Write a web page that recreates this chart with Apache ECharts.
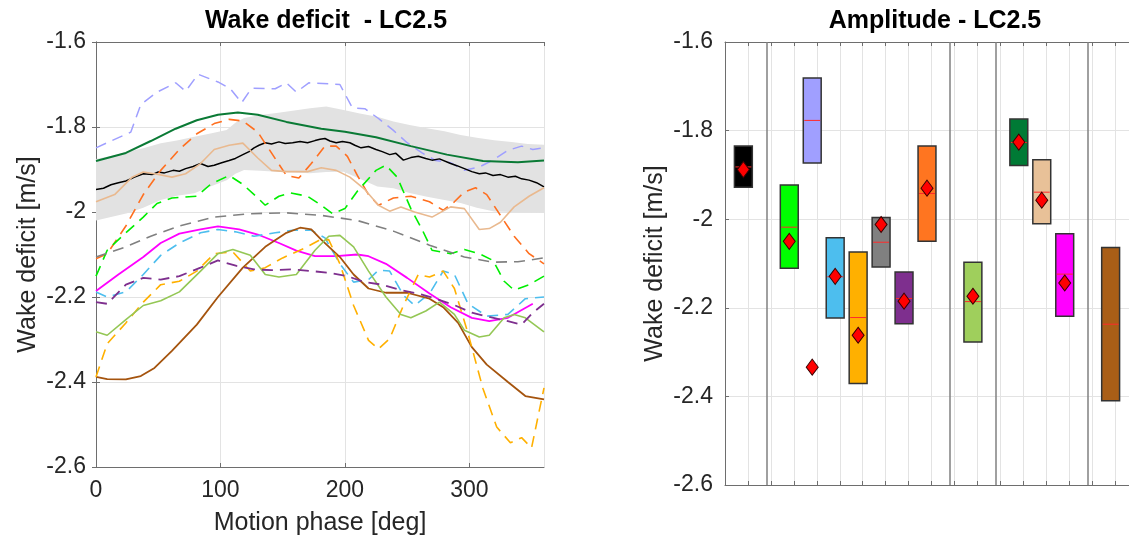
<!DOCTYPE html>
<html>
<head>
<meta charset="UTF-8">
<title>Wake deficit - LC2.5</title>
<script src="https://cdn.jsdelivr.net/npm/echarts@6/dist/echarts.min.js"></script>
<style>
  html, body { margin: 0; padding: 0; background: #fff; }
  #main { width: 1129px; height: 546px; }
</style>
</head>
<body>
<div id="main"></div>
<script type="text/javascript">
// ---- left panel: wake deficit vs motion phase, [deg, m/s] ----
var lavender = [[0,-1.849],[28,-1.812],[36,-1.747],[49,-1.718],[64,-1.696],[72,-1.716],[82,-1.676],[98,-1.694],[108,-1.710],[117,-1.743],[125,-1.709],[144,-1.710],[153,-1.696],[161,-1.718],[171,-1.696],[196,-1.700],[206,-1.755],[216,-1.757],[227,-1.780],[239,-1.808],[250,-1.837],[262,-1.861],[273,-1.879],[285,-1.884],[296,-1.902],[308,-1.894],[319,-1.878],[331,-1.855],[342,-1.845],[351,-1.853],[360,-1.849]];
var darkGreen = [[0,-1.880],[24,-1.861],[44,-1.833],[64,-1.804],[81,-1.784],[98,-1.771],[114,-1.766],[130,-1.771],[153,-1.788],[181,-1.804],[200,-1.811],[225,-1.824],[253,-1.845],[282,-1.865],[311,-1.880],[339,-1.883],[360,-1.879]];
var black = [[0,-1.947],[6,-1.944],[12,-1.936],[18,-1.931],[24,-1.927],[31,-1.918],[38,-1.910],[45,-1.912],[50,-1.906],[55,-1.908],[62,-1.902],[67,-1.904],[72,-1.898],[78,-1.893],[84,-1.886],[90,-1.893],[95,-1.890],[101,-1.884],[107,-1.879],[112,-1.874],[118,-1.865],[123,-1.858],[127,-1.849],[131,-1.843],[136,-1.837],[141,-1.840],[147,-1.835],[152,-1.839],[158,-1.837],[164,-1.834],[170,-1.837],[176,-1.832],[180,-1.829],[184,-1.827],[188,-1.833],[193,-1.837],[198,-1.834],[204,-1.837],[208,-1.843],[213,-1.849],[219,-1.846],[225,-1.853],[230,-1.858],[236,-1.865],[241,-1.862],[247,-1.878],[253,-1.872],[259,-1.869],[265,-1.874],[270,-1.878],[276,-1.875],[285,-1.886],[290,-1.891],[296,-1.898],[302,-1.905],[308,-1.910],[313,-1.908],[319,-1.914],[325,-1.912],[331,-1.918],[337,-1.916],[342,-1.922],[348,-1.925],[354,-1.931],[360,-1.941]];
var orange = [[0,-2.110],[9,-2.098],[24,-2.033],[38,-1.959],[52,-1.902],[67,-1.853],[81,-1.816],[95,-1.792],[107,-1.782],[118,-1.786],[130,-1.812],[141,-1.861],[153,-1.914],[163,-1.920],[173,-1.886],[184,-1.845],[193,-1.845],[202,-1.869],[210,-1.914],[219,-1.959],[227,-1.984],[239,-1.967],[253,-1.963],[268,-1.976],[279,-1.996],[288,-1.976],[296,-1.953],[305,-1.943],[314,-1.959],[325,-2.008],[336,-2.057],[348,-2.098],[360,-2.122]];
var tan = [[0,-1.976],[15,-1.959],[29,-1.918],[38,-1.906],[47,-1.910],[61,-1.918],[72,-1.910],[84,-1.886],[95,-1.853],[107,-1.843],[118,-1.838],[130,-1.873],[141,-1.902],[153,-1.905],[170,-1.905],[181,-1.896],[193,-1.902],[204,-1.918],[216,-1.947],[227,-1.984],[236,-1.998],[245,-1.988],[256,-2.000],[270,-2.012],[285,-1.988],[296,-1.992],[308,-2.041],[316,-2.039],[325,-2.024],[336,-1.988],[348,-1.963],[360,-1.943]];
var green = [[0,-2.151],[9,-2.090],[24,-2.049],[38,-2.012],[49,-1.980],[61,-1.967],[81,-1.963],[92,-1.935],[107,-1.914],[118,-1.935],[130,-1.967],[136,-1.984],[147,-1.963],[156,-1.955],[170,-1.963],[181,-1.984],[190,-2.004],[200,-1.992],[210,-1.951],[225,-1.902],[233,-1.890],[242,-1.918],[253,-1.992],[262,-2.041],[270,-2.090],[285,-2.098],[296,-2.088],[308,-2.098],[319,-2.114],[328,-2.163],[336,-2.184],[348,-2.171],[360,-2.151]];
var grayDash = [[0,-2.106],[24,-2.082],[44,-2.057],[67,-2.033],[95,-2.012],[124,-2.004],[153,-2.002],[181,-2.008],[210,-2.020],[239,-2.045],[268,-2.078],[296,-2.106],[319,-2.118],[339,-2.117],[360,-2.108]];
var magenta = [[0,-2.186],[18,-2.147],[38,-2.106],[52,-2.073],[67,-2.051],[84,-2.041],[98,-2.034],[115,-2.041],[130,-2.053],[147,-2.073],[161,-2.091],[176,-2.104],[193,-2.104],[210,-2.100],[219,-2.104],[233,-2.122],[250,-2.155],[268,-2.192],[285,-2.224],[302,-2.249],[316,-2.257],[331,-2.249],[351,-2.216]];
var lightBlue = [[0,-2.188],[9,-2.200],[24,-2.188],[38,-2.147],[52,-2.102],[67,-2.073],[84,-2.049],[98,-2.041],[113,-2.047],[127,-2.057],[144,-2.049],[158,-2.043],[173,-2.043],[184,-2.061],[196,-2.122],[207,-2.165],[219,-2.159],[227,-2.137],[236,-2.139],[247,-2.196],[256,-2.220],[268,-2.192],[279,-2.139],[288,-2.147],[299,-2.216],[314,-2.245],[331,-2.241],[345,-2.204],[360,-2.200]];
var brown = [[0,-2.388],[9,-2.393],[24,-2.394],[36,-2.386],[47,-2.367],[61,-2.327],[81,-2.265],[98,-2.200],[118,-2.131],[136,-2.082],[153,-2.049],[164,-2.037],[173,-2.041],[181,-2.065],[196,-2.106],[207,-2.147],[219,-2.180],[233,-2.190],[250,-2.190],[268,-2.204],[279,-2.224],[291,-2.261],[302,-2.318],[314,-2.359],[331,-2.400],[345,-2.433],[360,-2.441]];
var yellow = [[0,-2.388],[9,-2.310],[24,-2.261],[38,-2.212],[52,-2.171],[67,-2.163],[81,-2.139],[95,-2.098],[110,-2.094],[124,-2.139],[136,-2.131],[150,-2.108],[167,-2.086],[179,-2.067],[187,-2.065],[196,-2.122],[207,-2.220],[219,-2.302],[227,-2.322],[236,-2.298],[247,-2.220],[259,-2.147],[268,-2.153],[279,-2.139],[288,-2.180],[299,-2.286],[311,-2.416],[322,-2.506],[333,-2.543],[342,-2.531],[350,-2.555],[360,-2.414]];
var lightGreen = [[0,-2.282],[9,-2.290],[24,-2.253],[38,-2.220],[52,-2.209],[67,-2.188],[84,-2.139],[98,-2.098],[110,-2.088],[124,-2.102],[136,-2.147],[147,-2.153],[161,-2.147],[176,-2.090],[187,-2.057],[196,-2.055],[207,-2.082],[219,-2.139],[233,-2.200],[245,-2.241],[253,-2.249],[265,-2.233],[276,-2.212],[288,-2.241],[296,-2.278],[308,-2.294],[316,-2.290],[328,-2.249],[336,-2.241],[345,-2.249],[360,-2.282]];
var purple = [[0,-2.212],[9,-2.216],[24,-2.171],[38,-2.155],[52,-2.159],[67,-2.151],[84,-2.131],[98,-2.114],[113,-2.127],[127,-2.135],[141,-2.137],[158,-2.135],[173,-2.139],[187,-2.143],[202,-2.151],[216,-2.165],[230,-2.171],[245,-2.184],[259,-2.192],[273,-2.204],[288,-2.219],[302,-2.237],[316,-2.247],[331,-2.257],[342,-2.265],[351,-2.237],[360,-2.216]];

// grey band around the black line
var bandDeg   = [0, 12, 25, 38, 52, 65, 79, 92, 105, 112, 119, 132, 145, 158, 172, 185, 199, 212, 226, 239, 252, 266, 280, 293, 306, 320, 334, 347, 360];
var bandUpper = [-1.875,-1.868,-1.858,-1.850,-1.838,-1.832,-1.823,-1.815,-1.807,-1.790,-1.779,-1.772,-1.767,-1.762,-1.756,-1.752,-1.760,-1.768,-1.776,-1.787,-1.795,-1.803,-1.810,-1.819,-1.825,-1.831,-1.835,-1.840,-1.842];
var bandLower = [-2.020,-2.012,-2.003,-1.990,-1.972,-1.962,-1.956,-1.940,-1.925,-1.910,-1.901,-1.903,-1.905,-1.907,-1.909,-1.906,-1.905,-1.922,-1.940,-1.944,-1.955,-1.964,-1.972,-1.979,-1.990,-1.999,-2.000,-2.000,-2.002];

// ---- right panel: amplitude boxes ----
var boxPos    = [1, 3, 4, 5, 6, 7, 8, 9, 11, 13, 14, 15, 17];
var boxTop    = [-1.835,-1.923,-1.681,-2.042,-2.074,-1.996,-2.119,-1.835,-2.097,-1.774,-1.866,-2.033,-2.064];
var boxBottom = [-1.928,-2.111,-1.873,-2.223,-2.371,-2.108,-2.236,-2.050,-2.277,-1.879,-2.010,-2.219,-2.410];
var boxMedian = [-1.882,-2.018,-1.777,-2.130,-2.222,-2.052,-2.179,-1.942,-2.186,-1.827,-1.939,-2.124,-2.237];
var boxColors = ['#000000','#00ff00','#a09fff','#4dbeee','#ffb000','#808080','#7e2f8e','#ff7520','#9fcf5c','#007a35','#e8c198','#ff00ff','#a95e17'];
var diamondPos = [1, 3, 4, 5, 6, 7, 8, 9, 11, 13, 14, 15];
var diamondVal = [-1.888,-2.050,-2.334,-2.129,-2.262,-2.012,-2.185,-1.930,-2.174,-1.826,-1.957,-2.144];
var separators = [2, 10, 12, 16];

var font = 'Liberation Sans, Arial, Helvetica, sans-serif';
var axisCol = '#6e6e6e';
var gridCol = '#e3e3e3';
var tickFont = 23, nameFont = 25, titleFont = 25;

var myChart = echarts.init(document.getElementById('main'));

function lineSeries(data, color, dashed, width) {
  return {
    type: 'line', xAxisIndex: 0, yAxisIndex: 0, data: data,
    symbol: 'none', smooth: false, clip: true, silent: true,
    lineStyle: { color: color, width: width || 1.5, type: dashed ? [11, 7] : 'solid' },
    z: 3
  };
}

var boxData = boxPos.map(function (p, i) { return [p, boxTop[i], boxBottom[i], boxMedian[i], i]; });
var diamondData = diamondPos.map(function (p, i) { return [p, diamondVal[i]]; });

var option = {
  animation: false,
  textStyle: { fontFamily: font },
  title: [
    { text: 'Wake deficit  - LC2.5', left: 321, top: 4, textAlign: 'center',
      textStyle: { fontFamily: font, fontSize: titleFont, fontWeight: 'bold', color: '#000' } },
    { text: 'Amplitude - LC2.5', left: 930, top: 4, textAlign: 'center',
      textStyle: { fontFamily: font, fontSize: titleFont, fontWeight: 'bold', color: '#000' } }
  ],
  grid: [
    { left: 96, top: 42, width: 448, height: 425, show: false },
    { left: 725, top: 42, width: 411, height: 443, show: false }
  ],
  xAxis: [
    { type: 'value', gridIndex: 0, min: 0, max: 360, interval: 100, position: 'bottom',
      name: 'Motion phase [deg]', nameLocation: 'middle', nameGap: 44,
      nameTextStyle: { fontSize: nameFont, color: '#262626', fontFamily: font },
      axisLine: { show: true, lineStyle: { color: axisCol } },
      axisTick: { show: true, inside: true, length: 4, lineStyle: { color: axisCol } },
      axisLabel: { fontSize: tickFont, color: '#262626', margin: 12, fontFamily: font, showMaxLabel: false },
      splitLine: { show: true, lineStyle: { color: gridCol } } },
    { type: 'value', gridIndex: 0, min: 0, max: 360, interval: 100, position: 'top',
      axisLine: { show: true, lineStyle: { color: axisCol } },
      axisTick: { show: true, inside: true, length: 4, lineStyle: { color: axisCol } },
      axisLabel: { show: false }, splitLine: { show: false } },
    { type: 'value', gridIndex: 1, min: 0.2, max: 17.8, interval: 1, position: 'bottom',
      axisLine: { show: true, lineStyle: { color: axisCol } },
      axisTick: { show: true, inside: true, length: 4, lineStyle: { color: axisCol } },
      axisLabel: { show: false },
      splitLine: { show: true, lineStyle: { color: gridCol } } },
    { type: 'value', gridIndex: 1, min: 0.2, max: 17.8, interval: 1, position: 'top',
      axisLine: { show: true, lineStyle: { color: axisCol } },
      axisTick: { show: true, inside: true, length: 4, lineStyle: { color: axisCol } },
      axisLabel: { show: false }, splitLine: { show: false } }
  ],
  yAxis: [
    { type: 'value', gridIndex: 0, min: -2.6, max: -1.6, interval: 0.2, position: 'left',
      name: 'Wake deficit [m/s]', nameLocation: 'middle', nameGap: 55,
      nameTextStyle: { fontSize: nameFont, color: '#262626', fontFamily: font },
      axisLine: { show: true, lineStyle: { color: axisCol } },
      axisTick: { show: true, inside: true, length: 4, lineStyle: { color: axisCol } },
      axisLabel: { fontSize: tickFont, color: '#262626', margin: 10, fontFamily: font },
      splitLine: { show: true, lineStyle: { color: gridCol } } },
    { type: 'value', gridIndex: 0, min: -2.6, max: -1.6, interval: 0.2, position: 'right',
      axisLine: { show: true, lineStyle: { color: axisCol } },
      axisTick: { show: true, inside: true, length: 4, lineStyle: { color: axisCol } },
      axisLabel: { show: false }, splitLine: { show: false } },
    { type: 'value', gridIndex: 1, min: -2.6, max: -1.6, interval: 0.2, position: 'left',
      name: 'Wake deficit [m/s]', nameLocation: 'middle', nameGap: 57,
      nameTextStyle: { fontSize: nameFont, color: '#262626', fontFamily: font },
      axisLine: { show: true, lineStyle: { color: axisCol } },
      axisTick: { show: true, inside: true, length: 4, lineStyle: { color: axisCol } },
      axisLabel: { fontSize: tickFont, color: '#262626', margin: 12, fontFamily: font },
      splitLine: { show: true, lineStyle: { color: gridCol } } }
  ],
  series: [
    {
      type: 'custom', xAxisIndex: 0, yAxisIndex: 0, data: [[0, 0]], silent: true, z: 1,
      renderItem: function (params, api) {
        var pts = [];
        for (var i = 0; i < bandDeg.length; i++) pts.push(api.coord([bandDeg[i], bandUpper[i]]));
        for (var j = bandDeg.length - 1; j >= 0; j--) pts.push(api.coord([bandDeg[j], bandLower[j]]));
        return { type: 'polygon', shape: { points: pts }, style: { fill: '#e2e2e2', stroke: null } };
      }
    },
    lineSeries(lavender, '#9f9fff', true, 1.5),
    lineSeries(darkGreen, '#0a7a35', false, 2),
    lineSeries(black, '#000000', false, 1.5),
    lineSeries(orange, '#ff6f1f', true, 1.6),
    lineSeries(tan, '#e9b98f', false, 1.6),
    lineSeries(green, '#00ee00', true, 1.6),
    lineSeries(grayDash, '#808080', true, 1.6),
    lineSeries(magenta, '#ff00ff', false, 1.8),
    lineSeries(lightBlue, '#4dbeee', true, 1.6),
    lineSeries(brown, '#a5540e', false, 1.8),
    lineSeries(yellow, '#ffb000', true, 1.6),
    lineSeries(lightGreen, '#94c755', false, 1.6),
    lineSeries(purple, '#7e2f8e', true, 1.8),
    {
      type: 'custom', xAxisIndex: 2, yAxisIndex: 2, data: boxData, silent: true, z: 3,
      renderItem: function (params, api) {
        var p = api.value(0), hw = 0.39;
        var tl = api.coord([p - hw, api.value(1)]);
        var br = api.coord([p + hw, api.value(2)]);
        var ml = api.coord([p - hw, api.value(3)]);
        var mr = api.coord([p + hw, api.value(3)]);
        return {
          type: 'group',
          children: [
            { type: 'rect', shape: { x: tl[0], y: tl[1], width: br[0] - tl[0], height: br[1] - tl[1] },
              style: { fill: boxColors[api.value(4)], stroke: '#333333', lineWidth: 1.5 } },
            { type: 'line', shape: { x1: ml[0] + 1, y1: ml[1], x2: mr[0] - 1, y2: mr[1] },
              style: { stroke: '#ff2a2a', lineWidth: 1 } }
          ]
        };
      }
    },
    {
      type: 'scatter', xAxisIndex: 2, yAxisIndex: 2, data: diamondData, silent: true, z: 5,
      symbol: 'diamond', symbolSize: [12, 16],
      itemStyle: { color: '#ff0000', borderColor: '#3a0000', borderWidth: 1, opacity: 1 },
      markLine: {
        silent: true, symbol: 'none', animation: false,
        label: { show: false },
        lineStyle: { color: '#808080', width: 1.5, type: 'solid' },
        data: separators.map(function (v) { return { xAxis: v }; })
      }
    }
  ]
};

myChart.setOption(option);
</script>
</body>
</html>
